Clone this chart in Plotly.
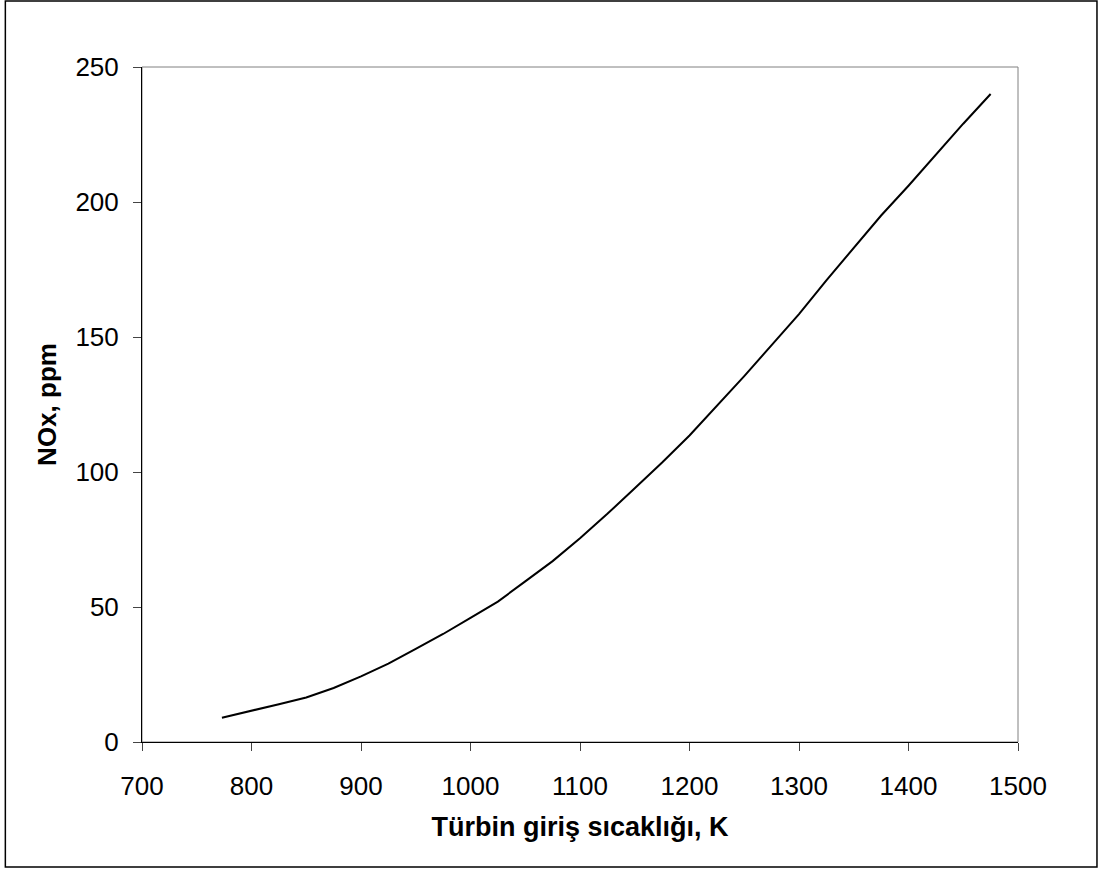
import plotly.graph_objects as go

temperature_K = [773, 800, 825, 850, 875, 900, 925, 950, 975, 1000, 1025, 1050, 1075, 1100,
                 1125, 1150, 1175, 1200, 1225, 1250, 1275, 1300, 1325, 1350, 1375, 1400,
                 1425, 1450, 1475]
nox_ppm = [9, 11.5, 14, 16.5, 20, 24.3, 29, 34.5, 40, 46, 52, 59.5, 67, 75.5,
           84.5, 94, 103.5, 113.5, 124.5, 135.5, 147, 158.5, 171, 183, 195, 206,
           217.5, 229, 240]
x_ticks = [700, 800, 900, 1000, 1100, 1200, 1300, 1400, 1500]
y_ticks = [0, 50, 100, 150, 200, 250]

FONT = "Liberation Sans, Arial, sans-serif"

fig = go.Figure()
fig.add_trace(go.Scatter(x=temperature_K, y=nox_ppm, mode="lines",
                         line=dict(color="black", width=2), showlegend=False,
                         hoverinfo="skip"))

L, R, T, B = 141.7, 81, 67, 128
W, H = 1099, 870
pw = W - L - R
ph = H - T - B

fig.update_layout(
    width=W, height=H,
    margin=dict(l=L, r=R, t=T, b=B, pad=0),
    paper_bgcolor="white", plot_bgcolor="white",
    font=dict(family=FONT, size=26, color="black"),
    xaxis=dict(range=[700, 1500], tickvals=x_ticks, ticks="outside", ticklen=8,
               tickcolor="#444", showline=True, linecolor="black", linewidth=1,
               showgrid=False, zeroline=False, ticklabelstandoff=13,
               tickfont=dict(size=26),
               title=dict(text="<b>Türbin giriş sıcaklığı, K</b>", font=dict(size=27), standoff=16)),
    yaxis=dict(range=[0, 250], tickvals=y_ticks, ticks="outside", ticklen=8,
               tickcolor="#444", showline=True, linecolor="black", linewidth=1,
               showgrid=False, zeroline=False, ticklabelstandoff=9,
               tickfont=dict(size=26),
               title=dict(text="<b>NOx, ppm</b>", font=dict(size=26), standoff=11)),
    shapes=[
        dict(type="rect", xref="paper", yref="paper", x0=0, x1=1, y0=0, y1=1,
             line=dict(color="#808080", width=1), layer="below"),
        dict(type="rect", xref="paper", yref="paper",
             x0=(5 - L) / pw, x1=(1097 - L) / pw,
             y0=(H - B - 867) / ph, y1=(H - B - 1) / ph,
             line=dict(color="black", width=1.5), layer="below"),
    ],
)

fig.write_html("out.html", config={"displayModeBar": False},
               post_script="document.body.style.margin='0';document.body.style.overflow='hidden';")
